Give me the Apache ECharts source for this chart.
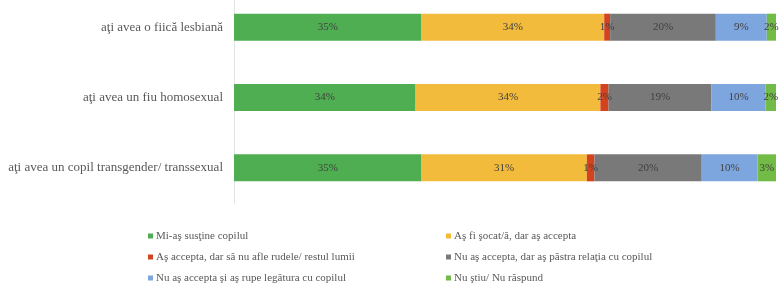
<!DOCTYPE html>
<html>
<head>
<meta charset="utf-8">
<script src="https://cdn.jsdelivr.net/npm/echarts@6/dist/echarts.min.js"></script>
<style>
  html, body { margin: 0; padding: 0; background: #fff; }
  #main { width: 780px; height: 291px; }
</style>
</head>
<body>
<div id="main"></div>
<script>
var dom = document.getElementById('main');
var myChart = echarts.init(dom, null, {renderer: 'canvas'});

var categories = [
    'aţi avea o fiică lesbiană',
    'aţi avea un fiu homosexual',
    'aţi avea un copil transgender/ transsexual'
];

var sustine = [34.6, 33.5, 34.6];
var socat = [33.7, 34.1, 30.5];
var faraRude = [1.1, 1.5, 1.4];
var pastraRelatia = [19.5, 19.0, 19.8];
var rupeLegatura = [9.4, 10.0, 10.3];
var nuStiu = [1.7, 1.9, 3.4];

var seriesNames = [
    'Mi-aş susţine copilul',
    'Aş fi şocat/ă, dar aş accepta',
    'Aş accepta, dar să nu afle rudele/ restul lumii',
    'Nu aş accepta, dar aş păstra relaţia cu copilul',
    'Nu aş accepta şi aş rupe legătura cu copilul',
    'Nu ştiu/ Nu răspund'
];
var seriesData = [sustine, socat, faraRude, pastraRelatia, rupeLegatura, nuStiu];
var colors = ['#4fae52', '#f2bb3c', '#d4431f', '#797979', '#7ea6de', '#72bb46'];

var serif = '"Liberation Serif", "DejaVu Serif", serif';

var series = seriesNames.map(function (name, i) {
    return {
        name: name,
        type: 'bar',
        stack: 'total',
        barWidth: 27,
        data: seriesData[i],
        itemStyle: {color: colors[i]},
        label: {
            show: true,
            position: 'inside',
            color: '#404040',
            fontFamily: serif,
            fontSize: 11,
            formatter: function (p) { return Math.round(p.value) + '%'; }
        }
    };
});

// legend: two columns, three rows
var legendCols = [143, 441];
var legendRows = [225.5, 246.5, 267.5];
var legends = seriesNames.map(function (name, i) {
    return {
        left: legendCols[i % 2],
        top: legendRows[Math.floor(i / 2)],
        itemWidth: 5,
        itemHeight: 5,
        icon: 'rect',
        textStyle: {color: '#595959', fontFamily: serif, fontSize: 11, padding: [0, 0, 0, -2]},
        data: [name]
    };
});

var option = {
    animation: false,
    color: colors,
    grid: {left: 234, right: 4, top: -8, height: 211, containLabel: false, outerBoundsMode: 'none'},
    xAxis: {
        type: 'value',
        min: 0,
        max: 100,
        show: false
    },
    yAxis: {
        type: 'category',
        inverse: true,
        data: categories,
        axisLine: {show: true, lineStyle: {color: '#e3e3e3'}},
        axisTick: {show: false},
        axisLabel: {
            color: '#595959',
            fontFamily: serif,
            fontSize: 13,
            margin: 11
        }
    },
    legend: legends,
    series: series
};

myChart.setOption(option);
</script>
</body>
</html>
